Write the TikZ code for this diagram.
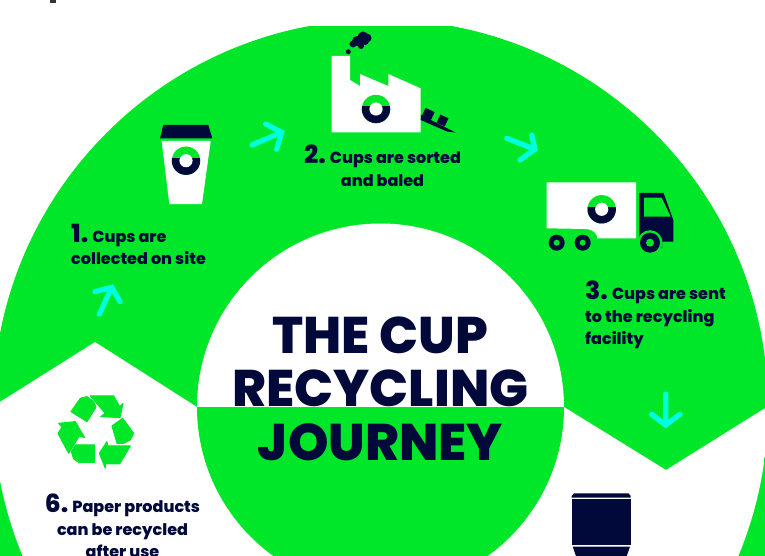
\documentclass[tikz,border=0pt]{standalone}
\usepackage{fontspec}
\setmainfont{Poppins}[BoldFont={Poppins ExtraBold}]
\definecolor{leaf}{RGB}{0,230,40}
\definecolor{ink}{RGB}{0,9,58}
\definecolor{aqua}{RGB}{0,255,225}
\tikzset{
  flow/.style={draw=aqua,line width=5.2pt,line cap=round,line join=miter},
  title/.style={anchor=base,inner sep=0pt,text=ink,font=\fontsize{51.5}{51.5}\selectfont\bfseries},
  caption/.style={inner sep=0pt,text=ink,font=\fontsize{16}{22.5}\selectfont\bfseries},
  recycle/.style={fill=leaf,draw=leaf,line width=1pt,line join=round},
}
\newcommand{\ringmark}[2]{%
  \fill[leaf] (#1,#2) circle (14.2pt);
  \begin{scope}
    \clip (#1-15,#2-2) rectangle (#1+15,#2+15);
    \fill[ink] (#1,#2) circle (14.2pt);
  \end{scope}
  \fill[white] (#1,#2) circle (6.6pt);
}
\newcommand{\bign}[1]{{\fontsize{25}{22.5}\selectfont #1}}
\begin{document}
\begin{tikzpicture}[x=1pt,y=-1pt]
\useasboundingbox (0,0) rectangle (765,556);
\clip (0,0) rectangle (765,556);
\fill[white] (0,0) rectangle (765,556);
\fill[black!80] (50,0) rectangle (56,3);
\fill[leaf] (0,407) rectangle (765,556);
\begin{scope}
  \clip (0,27) rectangle (765,556);
  \fill[leaf] (380.5,407) circle (387.5pt);
\end{scope}
\begin{scope}
  \clip (380.5,407) circle (387.5pt);
  \fill[white] (197,407) -- (95,342) -- (-20,414.5) -- (-20,600) -- (790,600) -- (790,392.5) -- (666,470) -- (564,407) -- cycle;
\end{scope}
\begin{scope}
  \clip (150,150) rectangle (620,407);
  \fill[white] (380.5,407) circle (183.5pt);
\end{scope}
\node[title] (t1) at (380,353) {THE CUP};
\node[title] (t2) at (380.5,406) {RECYCLING};
\begin{scope}
  \clip (150,407) rectangle (620,600);
  \fill[leaf] (380.5,407) circle (183.5pt);
\end{scope}
\node[title] (t3) at (380.5,460) {JOURNEY};
\fill[ink] (160,138.3) -- (163.3,125) -- (208.3,125) -- (212.3,138.3) -- cycle;
\fill[white] (161.7,141) -- (210.7,141) -- (202,204) -- (169.3,204) -- cycle;
\ringmark{186}{160.7}
\fill[white] (331.7,56) -- (350,56) -- (350,80) -- (360,86) -- (360,74) -- (388.3,86) -- (388.3,74) -- (420.7,88.3) -- (420.7,132.3) -- (331.7,132.3) -- cycle;
\ringmark{376}{109}
\fill[ink] (348.3,51.7) circle (2.5pt);
\fill[ink] (353,44) circle (3.5pt) (357,41) circle (5pt) (363,37) circle (5.5pt) (365,41) circle (4pt) (367,38) circle (4.5pt) (361,46) circle (3pt);
\fill[ink] (421,115) -- (455.5,132.5) -- (447,131.5) -- (420.7,120) -- cycle;
\begin{scope}[shift={(428,114.5)},rotate=-25]
  \fill[ink] (-5,-5) rectangle (5,5);
\end{scope}
\begin{scope}[shift={(442.5,120.5)},rotate=-25]
  \fill[ink] (-4.5,-4.5) rectangle (4.5,4.5);
\end{scope}
\fill[white] (546.7,182.3) -- (636,182.3) -- (636,238.3) -- (597,238.3) -- (597,236) .. controls (595,231) and (590,229) .. (585,229) -- (546.7,228.3) -- cycle;
\ringmark{601.7}{209.3}
\fill[ink] (639.3,193) -- (663.5,193) -- (673.3,220) -- (673.3,241.7) -- (662,241.7) -- (662,248) -- (639.3,248) -- cycle;
\fill[leaf] (644,197.7) -- (661.7,197.7) -- (670.7,216.7) -- (644,216.7) -- cycle;
\fill[leaf] (650,242.7) circle (12.5pt);
\fill[ink] (650,242.7) circle (10pt);
\fill[leaf] (650,242.7) circle (4pt);
\fill[ink] (556.7,242.7) circle (8pt) (582.7,242.7) circle (8pt);
\fill[leaf] (556.7,242.7) circle (3pt) (582.7,242.7) circle (3pt);
\fill[ink] (574,493.3) -- (628.5,493.3) -- (630.7,496) -- (630.7,497.5) -- (571.7,497.5) -- (571.7,496) -- cycle;
\fill[ink] (571.7,499) rectangle (630.7,545);
\fill[ink] (572.7,546.7) -- (630,546.7) -- (626.7,556) -- (576,556) -- cycle;
% recycling symbol: drawn in thirds of a pixel, as measured
\begin{scope}[x=0.3333pt,y=-0.3333pt,shift={(156,1170)}]
  \path[recycle] (57,65) -- (85,25) -- (105,20) -- (125,35) -- (132,52) -- (105,95) -- cycle;
  \path[recycle] (115,18) -- (185,18) -- (203,50) -- (213,40) -- (204,83) -- (146,80) -- (160,70) -- cycle;
  \path[recycle] (180,108) -- (212,85) -- (245,130) -- (235,150) -- (215,160) -- (195,160) -- cycle;
  \path[recycle] (142,190) -- (165,155) -- (167,168) -- (235,168) -- (203,222) -- (160,222) -- (160,235) -- cycle;
  \path[recycle] (70,165) -- (128,165) -- (128,217) -- (80,217) -- (65,207) -- (58,185) -- cycle;
  \path[recycle] (20,100) -- (70,95) -- (98,143) -- (82,138) -- (50,190) -- (18,130) -- (30,112) -- cycle;
\end{scope}
\coordinate (a1s) at (99.3,314.3); \coordinate (a1e) at (111.7,287.3);
\draw[flow] (a1s) -- (a1e) (95,291.7) -- (a1e) -- (120,301.7);
\coordinate (a2s) at (252,145); \coordinate (a2e) at (281.7,132.3);
\draw[flow] (a2s) -- (a2e) (265.7,124) -- (a2e) -- (276.7,149.3);
\coordinate (a3s) at (506.7,138.3); \coordinate (a3e) at (535,149.3);
\draw[flow] (a3s) -- (a3e) (531.7,135) -- (a3e) -- (520,160);
\coordinate (a4s) at (665.7,394); \coordinate (a4e) at (665.7,425);
\draw[flow] (a4s) -- (a4e) (651.7,414.3) -- (a4e) -- (680,414.3);
\node[caption,anchor=north west,align=left] (c1) at (71,224) {\bign{1.} Cups are\\collected on site};
\node[caption,anchor=north,align=center] (c2) at (382.5,145) {\bign{2.} Cups are sorted\\and baled};
\node[caption,anchor=north west,align=left] (c3) at (585,281) {\bign{3.} Cups are sent\\to the recycling\\facility};
\node[caption,anchor=north,align=center] (c6) at (122.5,494) {\bign{6.} Paper products\\can be recycled\\after use};
\end{tikzpicture}
\end{document}
